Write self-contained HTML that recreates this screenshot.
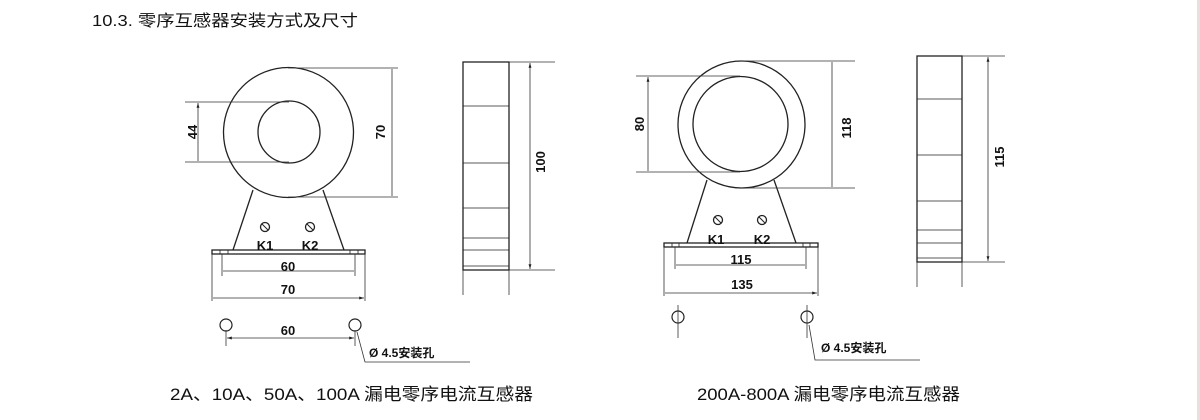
<!DOCTYPE html>
<html><head><meta charset="utf-8"><style>
html,body{margin:0;padding:0;background:#fff;width:1200px;height:420px;overflow:hidden}
svg{display:block}
text{font-family:"Liberation Sans","Noto Sans CJK SC",sans-serif;fill:#111}
</style></head><body>
<svg width="1200" height="420" viewBox="0 0 1200 420" xmlns="http://www.w3.org/2000/svg">
<defs>
<marker id="a" viewBox="0 0 10 10" refX="10" refY="5" markerWidth="6" markerHeight="6" orient="auto-start-reverse"><path d="M0,2 L10,5 L0,8 z" fill="#222"/></marker>
</defs>
<rect x="1197" y="0" width="3" height="420" fill="#e6e0e0"/>
<text x="92" y="26" font-size="16" textLength="266" lengthAdjust="spacingAndGlyphs">10.3. 零序互感器安装方式及尺寸</text>

<g stroke="#222" fill="none" stroke-width="1.3">
<circle cx="288.5" cy="132.5" r="65"/>
<circle cx="289" cy="132" r="31"/>
<path d="M253,190 L233,250 M323,190 L344,250"/>
<rect x="212" y="250" width="153" height="4"/>
<path d="M220,250v4M228,250v4M350,250v4M358,250v4" stroke-width="0.8"/>
<circle cx="265" cy="227" r="4.5"/><path d="M262,224l6,6" stroke-width="1"/>
<circle cx="310" cy="227" r="4.5"/><path d="M307,224l6,6" stroke-width="1"/>
</g>
<g stroke="#333" fill="none" stroke-width="0.8">
<path d="M185,102H289M185,162H289M288,68H398M288,197H398"/>
<path d="M198,103V161M392,69V196M223,271H354M213,298H364" marker-start="url(#a)" marker-end="url(#a)"/>
<path d="M222,254V276M355,254V276M212,254V301M365,254V301"/>
<circle cx="226" cy="325" r="6" stroke="#222" stroke-width="1.2"/>
<circle cx="355" cy="325" r="6" stroke="#222" stroke-width="1.2"/>
<path d="M227,338H354" marker-start="url(#a)" marker-end="url(#a)"/>
<path d="M226,330V346M355,330V346M357,332L365,362H470"/>
<rect x="463" y="62" width="46" height="208" stroke="#222" stroke-width="1.3"/>
<path d="M463,106H509M463,163H509M463,208H509M463,238H509M463,250H509M463,266H509" stroke="#222"/>
<path d="M463,270V295M509,270V295M509,62H555M509,270H555"/>
<path d="M530,63V269" marker-start="url(#a)" marker-end="url(#a)"/>
</g>
<g font-size="13" font-weight="bold">
<text transform="translate(197,132) rotate(-90)" text-anchor="middle">44</text>
<text transform="translate(385,132) rotate(-90)" text-anchor="middle">70</text>
<text transform="translate(545,162) rotate(-90)" text-anchor="middle">100</text>
<text x="265" y="250" text-anchor="middle">K1</text>
<text x="310" y="250" text-anchor="middle">K2</text>
<text x="288" y="271" text-anchor="middle">60</text>
<text x="288" y="294" text-anchor="middle">70</text>
<text x="288" y="335" text-anchor="middle">60</text>
<text x="369" y="357" font-size="12">Ø 4.5安装孔</text>
</g>

<g stroke="#222" fill="none" stroke-width="1.3">
<circle cx="741.5" cy="124.5" r="63.5"/>
<circle cx="740.5" cy="124" r="47.5"/>
<path d="M707,180 L687,243 M774,180 L796,243"/>
<rect x="664" y="243" width="154" height="4"/>
<path d="M672,243v4M679,243v4M803,243v4M810,243v4" stroke-width="0.8"/>
<circle cx="718" cy="220" r="4.5"/><path d="M715,217l6,6" stroke-width="1"/>
<circle cx="762" cy="220" r="4.5"/><path d="M759,217l6,6" stroke-width="1"/>
</g>
<g stroke="#333" fill="none" stroke-width="0.8">
<path d="M636,76H740M636,172H740M741,61H855M741,188H855"/>
<path d="M648,77V171M832,62V187M676,265H805M665,293H817" marker-start="url(#a)" marker-end="url(#a)"/>
<path d="M675,247V269M806,247V269M664,247V296M818,247V296"/>
<circle cx="678" cy="317" r="6" stroke="#222" stroke-width="1.2"/>
<circle cx="807" cy="317" r="6" stroke="#222" stroke-width="1.2"/>
<path d="M678,305V338M807,305V338M809,325L815,360H920"/>
<rect x="917" y="56" width="45" height="206" stroke="#222" stroke-width="1.3"/>
<path d="M917,99H962M917,155H962M917,201H962M917,230H962M917,243H962M917,258H962" stroke="#222"/>
<path d="M917,262V287M962,262V287M962,56H1005M962,262H1005"/>
<path d="M988,57V261" marker-start="url(#a)" marker-end="url(#a)"/>
</g>
<g font-size="13" font-weight="bold">
<text transform="translate(644,124) rotate(-90)" text-anchor="middle">80</text>
<text transform="translate(851,128) rotate(-90)" text-anchor="middle">118</text>
<text transform="translate(1004,157) rotate(-90)" text-anchor="middle">115</text>
<text x="716" y="244" text-anchor="middle">K1</text>
<text x="762" y="244" text-anchor="middle">K2</text>
<text x="741" y="264" text-anchor="middle">115</text>
<text x="742" y="289" text-anchor="middle">135</text>
<text x="821" y="352" font-size="12">Ø 4.5安装孔</text>
</g>

<text x="170" y="400" font-size="17" textLength="363" lengthAdjust="spacingAndGlyphs">2A、10A、50A、100A 漏电零序电流互感器</text>
<text x="697" y="400" font-size="17" textLength="263" lengthAdjust="spacingAndGlyphs">200A-800A 漏电零序电流互感器</text>
</svg>
</body></html>
